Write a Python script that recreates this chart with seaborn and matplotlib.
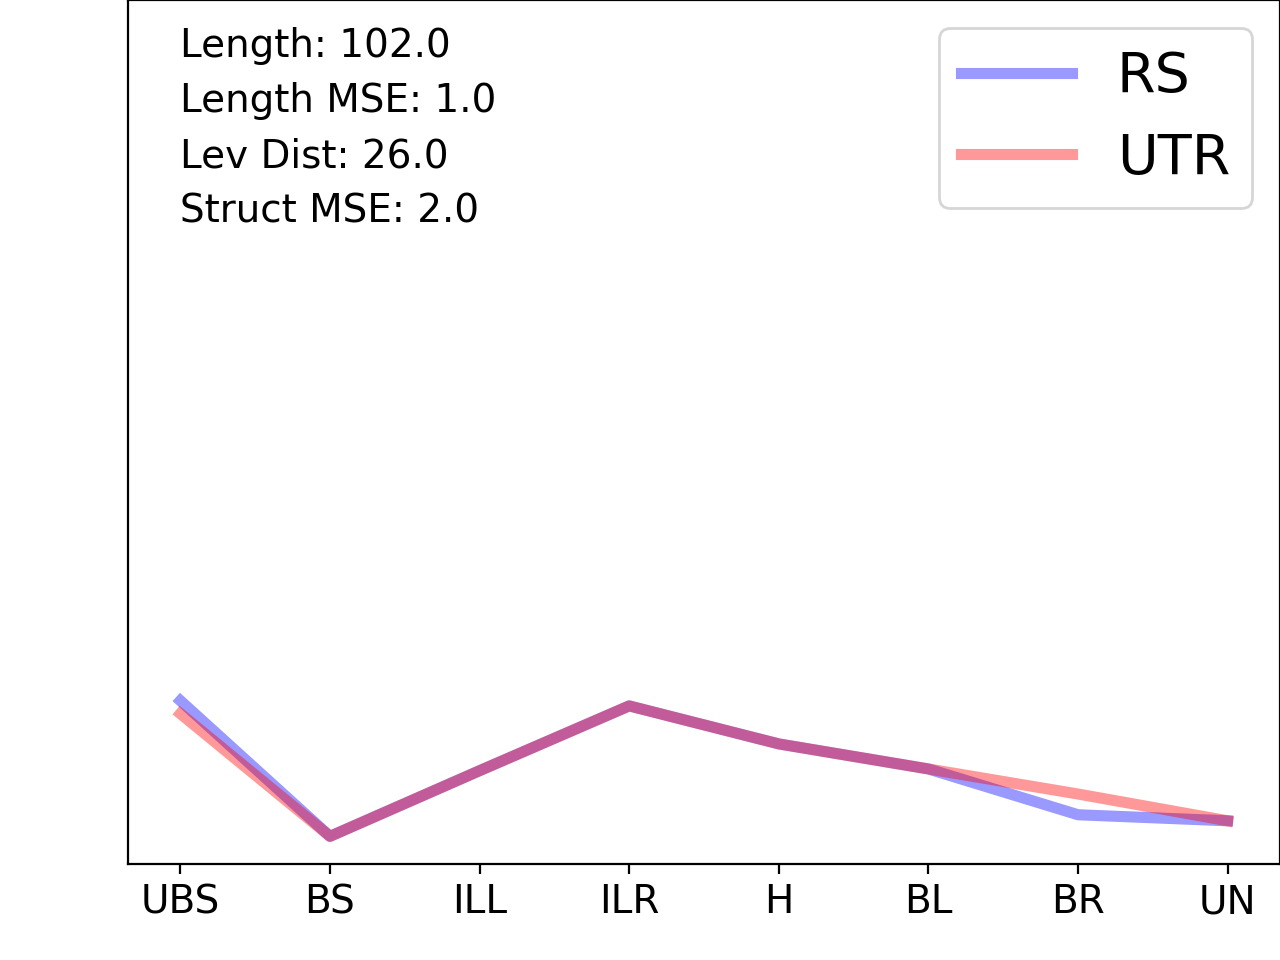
import pandas as pd
import matplotlib
matplotlib.use("Agg")
import matplotlib.pyplot as plt
import matplotlib.transforms as mtransforms
import seaborn as sns

# structure categories and per-method fractions
categories = ["UBS", "BS", "ILL", "ILR", "H", "BL", "BR", "UN"]
rs_values = [0.189, 0.032, 0.108, 0.183, 0.139, 0.110, 0.057, 0.050]
utr_values = [0.174, 0.032, 0.108, 0.183, 0.139, 0.110, 0.081, 0.050]
stats_lines = ["Length: 102.0", "Length MSE: 1.0", "Lev Dist: 26.0", "Struct MSE: 2.0"]

df = pd.DataFrame({
    "pos": list(range(len(categories))) * 2,
    "value": rs_values + utr_values,
    "method": ["RS"] * len(categories) + ["UTR"] * len(categories),
})

fig = plt.figure(figsize=(6.4, 4.8), dpi=200)
ax = fig.add_axes([0.1, 0.1, 0.9, 0.9])

sns.lineplot(data=df, x="pos", y="value", hue="method",
             palette={"RS": "blue", "UTR": "red"}, alpha=0.4, linewidth=4,
             ax=ax)

ax.set_xticks(range(len(categories)))
ax.set_xticklabels(categories)
ax.tick_params(axis="x", labelsize=14)
ax.set_yticks([])
ax.set_ylim(0, 1)
ax.set_xlabel("")
ax.set_ylabel("")

# stats text, left aligned with the first category
trans = mtransforms.blended_transform_factory(ax.transData, ax.transAxes)
for i, line in enumerate(stats_lines):
    ax.text(0, 0.934 - i * 0.0637, line, transform=trans, fontsize=14,
            va="baseline", ha="left")

ax.legend(loc="upper right", fontsize=20)

fig.savefig("out.png", dpi=200)
